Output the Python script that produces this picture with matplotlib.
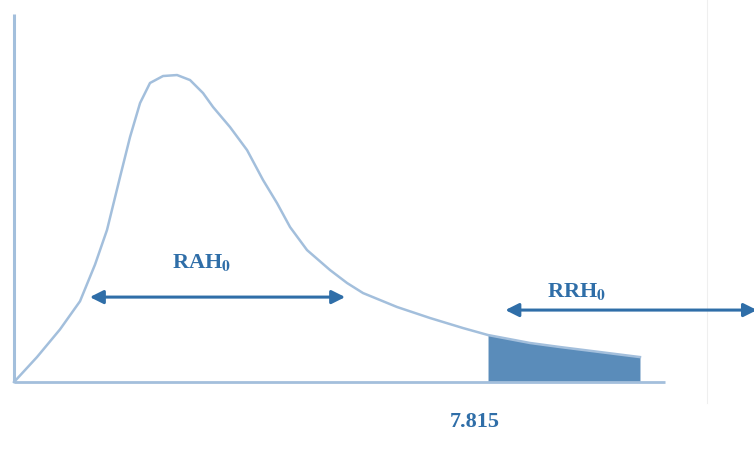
import matplotlib.pyplot as plt
import numpy as np

# sketched chi-square curve (df = 3)
curve_x = [0, 0.379, 0.758, 1.088, 1.336, 1.533, 1.748, 1.913, 2.078, 2.242, 2.457, 2.688,
           2.902, 3.116, 3.281, 3.561, 3.842, 4.106, 4.336, 4.551, 4.831, 5.210, 5.491,
           5.754, 6.315, 6.859, 7.403, 7.815, 8.508, 9.002, 9.662, 10.32]
curve_y = [0, 0.0204, 0.0430, 0.0660, 0.0960, 0.1242, 0.1675, 0.2002, 0.2279, 0.2443, 0.2500, 0.2508,
           0.2467, 0.2361, 0.2247, 0.2083, 0.1895, 0.1650, 0.1462, 0.1266, 0.1078, 0.0915, 0.0809,
           0.0727, 0.0613, 0.0523, 0.0441, 0.0384, 0.0319, 0.0286, 0.0245, 0.0204]
critical = 7.815
label_accept = 'RAH'
label_reject = 'RRH'

light = '#a3bfdc'
dark = '#2f6ea8'
fill_c = '#5a8cba'

fig = plt.figure(figsize=(7.54, 4.55), dpi=100)
ax = fig.add_axes([0, 0, 1, 1])
ax.set_xlim(-0.231, 12.20)
ax.set_ylim(-0.0596, 0.3121)
ax.axis('off')
plt.rcParams['mathtext.fontset'] = 'stix'

cx = np.array(curve_x)
cy = np.array(curve_y)

# axes of the sketch
ax.plot([0, 0], [0, 0.3007], color=light, lw=2.2, solid_capstyle='butt')
ax.plot([0, 10.73], [0, 0], color=light, lw=2.0, solid_capstyle='butt')

# curve
ax.plot(cx, cy, color=light, lw=1.8, solid_joinstyle='round')

# rejection tail
m = cx >= critical
ax.fill_between(cx[m], 0, cy[m], color=fill_c, lw=0)

# faint scan line
ax.plot([11.43, 11.43], [0.3121, -0.0172], color='#efefef', lw=0.8)

# arrows
akw = dict(arrowstyle='<|-|>', color=dark, lw=2.2, mutation_scale=20, shrinkA=0, shrinkB=0)
ax.annotate('', xy=(1.25, 0.0694), xytext=(5.46, 0.0694), arrowprops=akw)
ax.annotate('', xy=(8.10, 0.0588), xytext=(12.25, 0.0588), arrowprops=akw)

tkw = dict(color=dark, fontsize=16, fontweight='bold', family='Liberation Serif', ha='center', va='center')
ax.text(3.085, 0.0973, label_accept + r'$_{\mathbf{0}}$', **tkw)
ax.text(9.28, 0.0741, label_reject + r'$_{\mathbf{0}}$', **tkw)
ax.text(7.60, -0.0327, str(critical), **tkw)

fig.savefig('out.png', dpi=100)
